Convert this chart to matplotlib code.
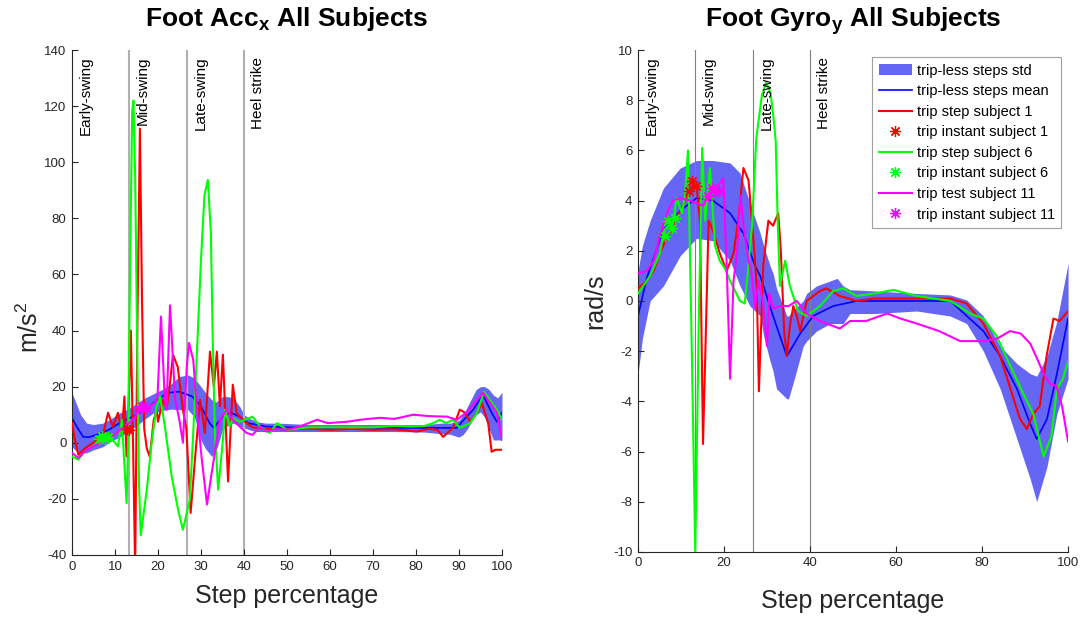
import matplotlib
matplotlib.use('Agg')
import matplotlib.pyplot as plt
import matplotlib.transforms as mtransforms

plt.rcParams['font.family'] = ['Liberation Sans', 'DejaVu Sans']
plt.rcParams['mathtext.fontset'] = 'custom'
plt.rcParams['mathtext.rm'] = 'Liberation Sans'
plt.rcParams['mathtext.it'] = 'Liberation Sans:italic'
plt.rcParams['mathtext.bf'] = 'Liberation Sans:bold'
plt.rcParams['axes.unicode_minus'] = False

# gait phases (step percentage where each phase starts)
phase_start = [0, 13.3, 26.7, 40]
phase_names = ['Early-swing', 'Mid-swing', 'Late-swing', 'Heel strike']

# ---- Foot Acc x ----
acc_band_x = [0, 1, 2, 3.4, 5, 7.2, 9, 11.2, 13, 15, 17, 19, 21, 23, 25, 27, 28.5, 30, 31, 32.5,
              33.5, 35, 36, 37.5, 39, 40, 41.5, 43, 45, 48, 55, 65, 75, 82, 86, 88, 90, 91, 92, 93,
              94, 95, 96, 97, 98, 99, 100]
acc_band_hi = [17.8, 14, 10, 7, 6.5, 7, 8.5, 10.7, 12, 14, 16, 17.5, 19, 21, 23.6, 24.2, 23, 20, 18, 15.3,
               14.5, 16.5, 16.5, 16, 13, 10, 8.5, 7.5, 7, 7, 6.5, 6.5, 6.5, 6.5, 7, 7, 8, 10, 13, 16,
               19, 20, 20, 19, 17, 16, 18]
acc_band_lo = [-1.4, -3, -3.6, -3.6, -2.5, -1.4, 0.5, 2.1, 4, 6, 8.5, 10.7, 11.5, 12, 11.8, 11.8, 9, 1, -2, -4.9,
               -3, 4.6, 6, 7, 6, 5.3, 4.5, 4, 4, 4, 4, 4, 4, 3.8, 3.2, 3, 2, 3, 5, 8,
               10, 11, 9, 5, 1, 1, 1]

acc_mean_x = [0, 1, 2.6, 4, 7, 9, 11, 13, 15, 17, 19, 21, 22, 25, 28, 30, 32, 33, 35, 37,
              39, 41, 45, 50, 60, 70, 80, 85, 89.5, 91, 93.3, 95.6, 97.6, 98.8, 100]
acc_mean_y = [8.9, 6, 2.1, 2, 3.5, 5, 7, 8.5, 10, 12, 14.2, 16.5, 17.8, 18.2, 16.5, 13, 7, 5.3, 9.3, 10.7,
              9.3, 7, 5.8, 5.5, 5.3, 5.3, 5.3, 5.3, 5.3, 8, 11.8, 17, 10.7, 7.5, 10.7]

acc_s1_x = [0, 0.7, 1.5, 3, 4.9, 6, 7.2, 8.4, 9.5, 10.7, 11.6, 12.2, 12.7, 13.2, 13.7, 14.2, 14.7, 15.2, 15.8, 16.3,
            16.8, 17.4, 18.1, 19, 19.7, 20, 21.2, 22, 22.7, 23.5, 24.6, 25.8, 26.6, 27.6, 28.6, 29.8, 30.9, 32.1, 33, 33.7,
            34.4, 35.1, 36.3, 37.4, 38.3, 39, 40.6, 42, 45, 50, 55, 60, 65, 70, 75, 80.2, 83, 85, 86.3, 88.6,
            90.2, 91.4, 92.6, 94.2, 95.3, 96.8, 97.6, 98.5, 100]
acc_s1_y = [7, 1, -4.3, -2, 0, 1.5, 2.8, 10.7, 5.7, 10.7, 3.5, 16.5, -4.9, 15, 40, 0, -45, 40, 112, 50,
            5, -2, -5, 8, 11.8, 7.5, 15.3, 12, 20, 31.4, 27, 11.8, 5, -25, -6, 15.3, 3.5, 32.5, 20, 32.5,
            13, 31.4, -13.8, 20.7, 10.7, 9.3, 7, 5.5, 5, 4.8, 5, 4.6, 5, 4.6, 4.8, 4, 5, 4.6, 2.1, 5.3,
            11.8, 10.7, 7.5, 10.7, 14.2, 7, -3.2, -2.5, -2.5]

acc_s6_x = [0, 1.5, 3, 4.9, 6, 7.2, 8.5, 9.5, 10.7, 11.6, 12.7, 13.0, 13.5, 14.0, 14.3, 14.7, 15.2, 15.6, 16.0, 17.4,
            18.6, 19.7, 20.5, 21.6, 23.2, 24.7, 25.8, 27.4, 28.2, 29, 30, 30.8, 31.6, 32.3, 32.7, 33.2, 34, 35.1, 35.6, 36.7,
            37.4, 39, 42, 43.7, 46, 47.7, 50, 55, 60, 65, 70, 75, 79, 82, 84, 85.5, 87, 88.6, 90.2, 92.6,
            94.2, 95.8, 97.2, 98.8, 100]
acc_s6_y = [-4.9, -6, -3, -1.3, 0, 1, 2, 1, -1.3, 8.2, -21.5, -5, 60, 118, 122, 95, 30, -15, -33, -16.8,
            1, 13, 16.5, 5.8, -12, -24, -31, -20.3, 3.5, 30, 65, 88, 93.7, 75, 40, 5, -16.7, 1, 11.8, 5.8,
            8.8, 7.5, 9.3, 5.8, 3.5, 7, 4.6, 5.5, 5.5, 5.5, 5.5, 6, 5.8, 6, 7, 8.2, 7, 8.2, 5.3, 7,
            10.7, 18.2, 15.3, 11.8, 8.2]

acc_s11_x = [0, 1.5, 3, 4.9, 8.1, 11.2, 14.2, 16.2, 18.1, 19.3, 19.9, 20.7, 21.6, 22, 22.8, 24, 25, 25.8, 26.7, 27.2,
             28.2, 29, 30.2, 31.4, 32.5, 33.7, 34.4, 36, 37.4, 39, 40.6, 42, 43.7, 45.2, 47.7, 50, 53, 57, 59.5, 64,
             67, 71.6, 75, 79.3, 83, 87.2, 89.5, 91.9, 94.2, 95.6, 97.2, 98.8, 100]
acc_s11_y = [-3.6, -5.4, -3, -1.3, 1, 4.6, 8.2, 13, 13, 14.2, 16.5, 45, 15.3, 11.8, 49, 15.3, 8, 0, 27, 35.6,
             29.6, 13, -6, -22, -10.7, 1, 8.2, 11.8, 8.2, 5.8, 3.5, 2.8, 5.8, 4, 5, 4.6, 5.8, 8.2, 7, 7.5,
             8.2, 8.9, 8.5, 10, 9.5, 9.3, 8.2, 11, 15.3, 17.8, 14.2, 10.7, 1]

acc_trip1_x = [12.8, 13.3]
acc_trip1_y = [5, 4.5]
acc_trip6_x = [6.3, 7.0, 7.7, 8.4]
acc_trip6_y = [1.5, 2.4, 1.2, 2.2]
acc_trip11_x = [15.6, 16.4, 17.2]
acc_trip11_y = [12, 13, 12.5]

# ---- Foot Gyro y ----
gyro_band_x = [0, 1, 2.8, 5.9, 9.8, 13.6, 17.4, 21.4, 23.7, 26, 28.4, 29.2, 30.7, 31.4, 32.2, 34.6, 35, 36.5, 38.4, 39.2,
               41.5, 44.7, 46.3, 47.7, 49.3, 55, 64.8, 72.6, 76.4, 80.3, 84.2, 88.1, 91.2, 92.7, 95.1, 97.4, 100]
gyro_band_hi = [1.2, 2.2, 3.2, 4.5, 5.3, 5.6, 5.6, 5.5, 5.1, 3.9, 2.7, 2.2, 1.4, 1.1, 0.5, -0.6, -0.6, -0.3, 0, 0.3,
                0.6, 0.8, 0.9, 0.6, 0.45, 0.4, 0.3, 0.24, 0.04, -0.6, -1.8, -2.5, -2.9, -3, -2.2, -0.8, 1.5]
gyro_band_lo = [-2.9, -1.5, 0, 0.6, 1.8, 2.5, 2.4, 1.6, 0.6, -0.2, -0.6, -1.4, -2.4, -2.8, -3.5, -3.9, -3.9, -3, -1.8, -1.6,
                -1.2, -0.9, -0.9, -0.9, -0.5, -0.5, -0.4, -0.6, -0.9, -2, -3.5, -5.5, -7.1, -8, -6.6, -4.5, -3.1]

gyro_mean_x = [0, 2, 5.8, 9.8, 13.6, 17.4, 21.4, 23.7, 24.5, 27.2, 28.4, 31.4, 34.6, 37.7, 40.7, 45.4, 50.9, 60, 72.6, 80.3,
               84.2, 88.1, 91.2, 92.7, 95.1, 97.4, 100]
gyro_mean_y = [-0.6, 0.9, 2.8, 3.6, 4.1, 4.0, 3.5, 2.9, 2.7, 1.4, 1.0, -0.6, -2.2, -1.3, -0.6, -0.2, 0, 0, 0, -1.2,
               -2.2, -3.5, -4.9, -5.5, -4.7, -2.9, -0.7]

gyro_s1_x = [0, 2, 3.6, 5.8, 8.1, 10.4, 12, 13.6, 14.4, 15.1, 15.8, 16.4, 17.4, 19, 20.6, 22.2, 23.3, 24.5, 25.7, 26.8,
             27.6, 28.1, 29.1, 30.3, 31.4, 32.6, 33.2, 34, 34.6, 35.3, 36.1, 36.9, 37.7, 39.2, 42.3, 43.8, 46.9, 50.8, 55, 65,
             72.6, 76.4, 80.3, 84.2, 86.6, 88.8, 90.4, 91.9, 93.4, 95, 96.6, 98, 100]
gyro_s1_y = [0.5, 0.8, 1.2, 2.2, 3, 3.8, 4.5, 4.6, 3.2, -5.7, -1, 3.2, 2.8, 1.9, 1.2, 1.9, 3.2, 5.3, 4.8, 2.5,
             0.6, -3.6, 1.4, 3.2, 3.0, 3.5, 2, -1.3, -2.2, -1, -0.2, -0.6, -1.2, 0, 0.4, 0.5, 0.2, 0, 0.1, 0.1,
             0.1, -0.1, -0.9, -2.2, -3.5, -4.7, -5.1, -4.5, -4.2, -2.2, -0.7, -0.8, -0.4]

gyro_s6_x = [0, 2.8, 5.1, 6, 7, 8, 9, 10.2, 10.9, 11.6, 12.5, 13.3, 14.1, 14.9, 15.6, 16.7, 17.9, 19, 20.2, 21.4,
             23.7, 24.8, 25.5, 26.5, 27.5, 28.8, 29.8, 30.8, 31.5, 32, 32.5, 33, 34.2, 35.3, 37.2, 39.2, 42.3, 45.4, 47.7, 50.8,
             55, 59.4, 64.8, 72.6, 77.2, 80.3, 83.4, 86.6, 89.6, 91.9, 94.3, 96.1, 97.4, 98.8, 100]
gyro_s6_y = [0.3, 1, 1.9, 2.8, 3, 3, 4.1, 3.5, 4.2, 6, -2, -10, -1, 6.1, 3.2, 5.3, 2.2, 1.6, 1.3, 0.8,
             0, -0.1, 1.1, 3, 6.5, 8.2, 8.7, 8.3, 7.3, 6.4, 3, 0.6, 1.6, 0.6, -0.4, -0.6, -0.2, 0.4, 0.5, 0.2,
             0.3, 0.44, 0.2, 0, -0.5, -0.7, -1.4, -2.6, -3.7, -4.5, -6.2, -5.4, -3.5, -3.1, -2.4]

gyro_s11_x = [0, 2, 3.6, 5.1, 6.7, 8.1, 9.8, 12.1, 13.6, 15.2, 16.5, 18, 19.8, 20.6, 21.4, 22.2, 23, 23.8, 24.5, 25.5,
              26.5, 27.2, 28, 29, 30, 30.5, 31.5, 33, 35, 36.9, 39.2, 42.3, 45.4, 46.9, 49.3, 53, 57.9, 61, 64.8, 70,
              74.9, 80.3, 83.5, 86.5, 89, 91.2, 92.8, 94.3, 95.8, 97.3, 98.6, 100]
gyro_s11_y = [1.1, 1.2, 1.6, 2.6, 3.5, 4, 4.1, 4, 3.9, 3.8, 4.3, 4.4, 4.9, 1.5, -3.1, 0.8, 1.9, 4.2, 3, 1.8,
              1, -0.3, 0.8, 0, -1.8, 0.3, -0.3, -0.2, -0.2, 0, -0.5, -0.8, -1, -1.1, -0.8, -0.8, -0.5, -0.7, -0.9, -1.2,
              -1.6, -1.6, -1.5, -1.2, -1.3, -1.7, -2.3, -2.9, -3.3, -3.4, -4.2, -5.6]

gyro_trip1_x = [11.8, 12.6, 13.4]
gyro_trip1_y = [4.4, 4.8, 4.6]
gyro_trip6_x = [6.2, 7.0, 7.8, 8.6]
gyro_trip6_y = [2.6, 3.2, 2.9, 3.3]
gyro_trip11_x = [16.2, 17.1, 18.0, 18.9]
gyro_trip11_y = [4.2, 4.5, 4.3, 4.4]

BAND = (0.4, 0.4, 0.96)
AXCOL = '#262626'
STAR = (8, 2, 0)


def panel(ax, band, mean, subj, trips, ylim, yticks, xticks, title, ylabel, vcol, vlw, xpad):
	# one MATLAB-looking panel with band, mean, trip steps and phase markers
	ax.fill_between(band[0], band[2], band[1], color=BAND, lw=0, label='trip-less steps std', zorder=1)
	for xs in phase_start[1:]:
		ax.axvline(xs, color=vcol, lw=vlw, zorder=1.5)
	ax.plot(mean[0], mean[1], color='#0000ff', lw=1.2, label='trip-less steps mean', zorder=2)

	cols = ['#ff0000', '#00ff00', '#ff00ff']
	lnames = ['trip step subject 1', 'trip step subject 6', 'trip test subject 11']
	snames = ['trip instant subject 1', 'trip instant subject 6', 'trip instant subject 11']
	for i in range(3):
		ax.plot(subj[i][0], subj[i][1], color=cols[i], lw=1.5, label=lnames[i], zorder=3)
		ax.plot(trips[i][0], trips[i][1], ls='none', marker=STAR, ms=8, mew=0.9,
			color=cols[i], label=snames[i], zorder=4)

	trans = mtransforms.blended_transform_factory(ax.transData, ax.transAxes)
	for xs, name in zip(phase_start, phase_names):
		ax.text(xs + 3.2, 0.987, name, rotation=90, ha='center', va='top',
			fontsize=11, color='black', transform=trans)

	ax.set_xlim(0, 100)
	ax.set_ylim(*ylim)
	ax.set_xticks(xticks)
	ax.set_yticks(yticks)
	for side in ['top', 'right']:
		ax.spines[side].set_visible(False)
	for side in ['left', 'bottom']:
		ax.spines[side].set_color(AXCOL)
		ax.spines[side].set_linewidth(0.8)
	ax.tick_params(direction='in', length=4, width=0.8, labelsize=9.5, colors=AXCOL, pad=4)
	ax.set_title(title, fontsize=19, fontweight='bold', pad=17)
	ax.set_xlabel('Step percentage', fontsize=18, color=AXCOL, labelpad=xpad)
	ax.set_ylabel(ylabel, fontsize=18, color=AXCOL, labelpad=4)


fig = plt.figure(figsize=(10.87, 6.18), dpi=100)
ax1 = fig.add_axes([0.0662, 0.102, 0.3956, 0.817])
ax2 = fig.add_axes([0.587, 0.107, 0.3956, 0.812])

panel(ax1,
	(acc_band_x, acc_band_hi, acc_band_lo),
	(acc_mean_x, acc_mean_y),
	[(acc_s1_x, acc_s1_y), (acc_s6_x, acc_s6_y), (acc_s11_x, acc_s11_y)],
	[(acc_trip1_x, acc_trip1_y), (acc_trip6_x, acc_trip6_y), (acc_trip11_x, acc_trip11_y)],
	(-40, 140), range(-40, 141, 20), range(0, 101, 10),
	r'Foot Acc$_\mathbf{x}$ All Subjects', r'm/s$^2$', '#b0b0b0', 1.5, 8)
ax1.yaxis.set_label_coords(-0.068, 0.45)

panel(ax2,
	(gyro_band_x, gyro_band_hi, gyro_band_lo),
	(gyro_mean_x, gyro_mean_y),
	[(gyro_s1_x, gyro_s1_y), (gyro_s6_x, gyro_s6_y), (gyro_s11_x, gyro_s11_y)],
	[(gyro_trip1_x, gyro_trip1_y), (gyro_trip6_x, gyro_trip6_y), (gyro_trip11_x, gyro_trip11_y)],
	(-10, 10), range(-10, 11, 2), range(0, 101, 20),
	r'Foot Gyro$_\mathbf{y}$ All Subjects', 'rad/s', '#808080', 0.8, 14)

leg = ax2.legend(loc='upper right', bbox_to_anchor=(0.984, 0.986), borderaxespad=0,
	fontsize=10.5, handlelength=2.3, handletextpad=0.3, labelspacing=0.45,
	borderpad=0.45, fancybox=False, framealpha=1, edgecolor='#a0a0a0')
leg.get_frame().set_linewidth(0.8)

plt.savefig('out.png', dpi=100)
